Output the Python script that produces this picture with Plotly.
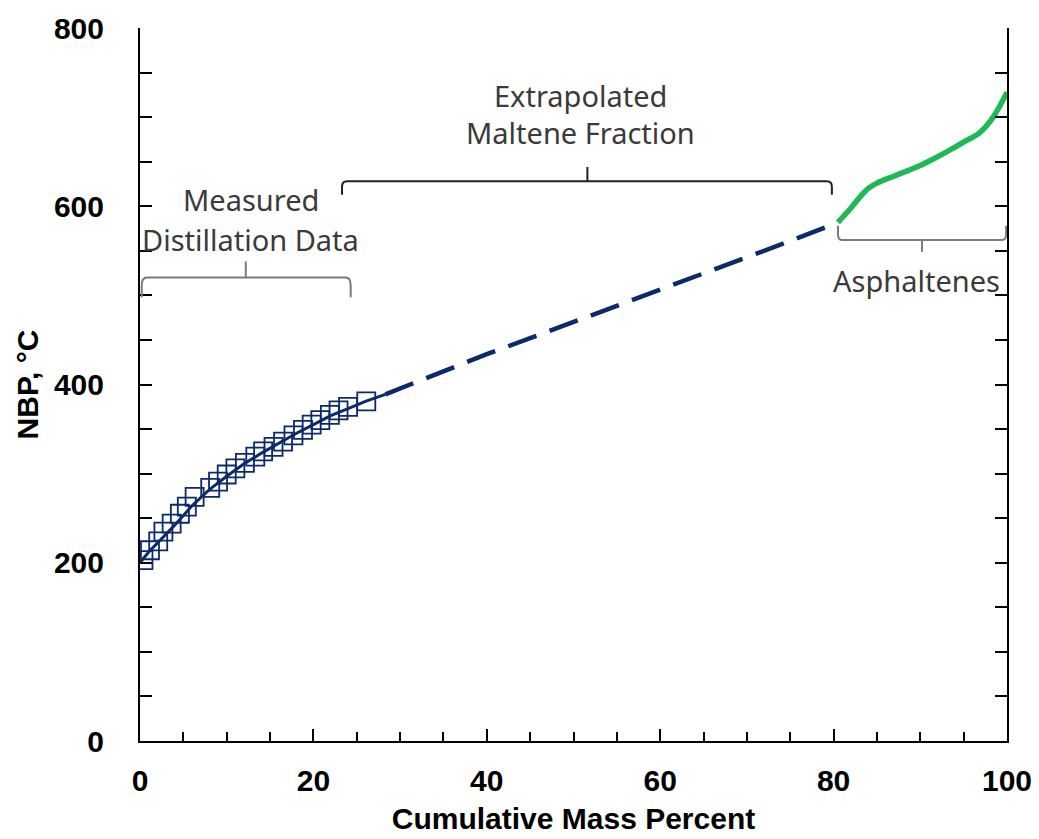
import plotly.graph_objects as go

NAVY = "#0b2a6b"
GREEN = "#1db954"
GRAY = "#7a7a7a"
TEXT = "#3a3a3a"

# Measured distillation data (cumulative mass %, NBP degC)
meas_x = [0.4, 1.15, 2.1, 2.7, 3.65, 4.6, 5.4, 6.3, 8.1, 9.0, 10.0, 11.0, 12.1,
          13.3, 14.2, 15.4, 16.5, 17.7, 18.8, 19.8, 20.8, 21.9, 22.9, 24.0, 26.1]
meas_y = [203, 214, 224, 235, 244, 255, 263, 274, 284, 291, 299, 306, 312,
          319, 325, 330, 336, 343, 349, 355, 360, 366, 371, 375, 381]

# Fitted curve through the measured points
fit_x = [0.0, 1.0, 2.0, 3.0, 4.0, 6.0, 8.0, 10.0, 12.0, 14.0, 16.0, 18.0, 20.0,
         22.0, 24.0, 26.0, 28.3]
fit_y = [200, 212, 222, 232, 242, 264, 282, 297, 311, 323, 334, 345, 355,
         365, 373, 381, 389]

# Extrapolated maltene fraction
ext_x = [28.3, 35, 40, 45, 50, 55, 60, 65, 70, 75, 80]
ext_y = [389, 415, 434, 452, 470, 488, 506, 525, 543, 561, 580]

# Asphaltene fraction
asph_x = [80.5, 82.0, 83.0, 84.0, 85.0, 87.0, 89.6, 91.5, 93.4, 95.0, 96.9, 98.4, 100.0]
asph_y = [582, 598, 610, 620, 626, 634, 644, 653, 663, 672, 683, 700, 728]

fig = go.Figure()

fig.add_trace(go.Scatter(x=fit_x, y=fit_y, mode="lines",
                         line=dict(color=NAVY, width=3), showlegend=False))
fig.add_trace(go.Scatter(x=meas_x, y=meas_y, mode="markers",
                         marker=dict(symbol="square-open", size=18, color=NAVY,
                                     line=dict(width=1.8, color=NAVY)),
                         showlegend=False))
fig.add_trace(go.Scatter(x=ext_x, y=ext_y, mode="lines",
                         line=dict(color=NAVY, width=4.5, dash="30px,14px"),
                         showlegend=False))
fig.add_trace(go.Scatter(x=asph_x, y=asph_y, mode="lines",
                         line=dict(color=GREEN, width=5.5, shape="spline"),
                         showlegend=False))


def brace(x0, x1, xm, y, yend, ytip, color):
    """Bracket: flat bar at y, ends bent to yend, centre tick to ytip."""
    r = 0.6
    d = (f"M {x0},{yend} L {x0},{y + (yend - y) * 0.4} Q {x0},{y} {x0 + r},{y} "
         f"L {x1 - r},{y} Q {x1},{y} {x1},{y + (yend - y) * 0.4} L {x1},{yend} "
         f"M {xm},{y} L {xm},{ytip}")
    return dict(type="path", path=d, xref="x", yref="y",
                line=dict(color=color, width=2))


fig.update_layout(shapes=[
    brace(0.2, 24.3, 12.2, 520, 498, 538, GRAY),
    brace(23.3, 79.8, 51.6, 628, 613, 644, "#222222"),
    brace(80.5, 99.9, 90.2, 562, 578, 549, GRAY),
])

ann_font = dict(family="Noto Sans", size=29, color=TEXT)
fig.add_annotation(x=12.8, y=608, text="Measured", showarrow=False, font=ann_font)
fig.add_annotation(x=12.8, y=563, text="Distillation Data", showarrow=False, font=ann_font)
fig.add_annotation(x=50.8, y=724, text="Extrapolated", showarrow=False, font=ann_font)
fig.add_annotation(x=50.8, y=683, text="Maltene Fraction", showarrow=False, font=ann_font)
fig.add_annotation(x=89.6, y=517, text="Asphaltenes", showarrow=False, font=ann_font)

tick_font = dict(family="Liberation Sans", size=30, color="black", weight="bold")
title_font = dict(family="Liberation Sans", size=30, color="black", weight="bold")

fig.update_layout(
    width=1039, height=839,
    margin=dict(l=140, r=32, t=28, b=98),
    paper_bgcolor="white", plot_bgcolor="white",
    font=dict(family="Liberation Sans", color="black"),
    xaxis=dict(range=[0, 100], tickvals=[0, 20, 40, 60, 80, 100], automargin=False,
               ticks="inside", ticklen=12, tickwidth=1.6, tickcolor="black",
               minor=dict(dtick=5, ticks="inside", ticklen=9, tickwidth=1.6, tickcolor="black"),
               showline=True, linecolor="black", linewidth=2, showgrid=False,
               zeroline=False, tickfont=tick_font, ticklabelstandoff=12,
               title=dict(text="Cumulative Mass Percent", font=title_font, standoff=12)),
    yaxis=dict(range=[0, 800], tickvals=[0, 200, 400, 600, 800], automargin=False,
               ticks="inside", ticklen=12, tickwidth=1.6, tickcolor="black",
               minor=dict(dtick=50, ticks="inside", ticklen=12, tickwidth=1.6, tickcolor="black"),
               showline=True, linecolor="black", linewidth=2, mirror="ticks",
               showgrid=False, zeroline=False, tickfont=tick_font,
               ticklabelstandoff=28,
               title=dict(text="NBP, °C", font=title_font, standoff=6)),
)

fig.write_html("out.html")
